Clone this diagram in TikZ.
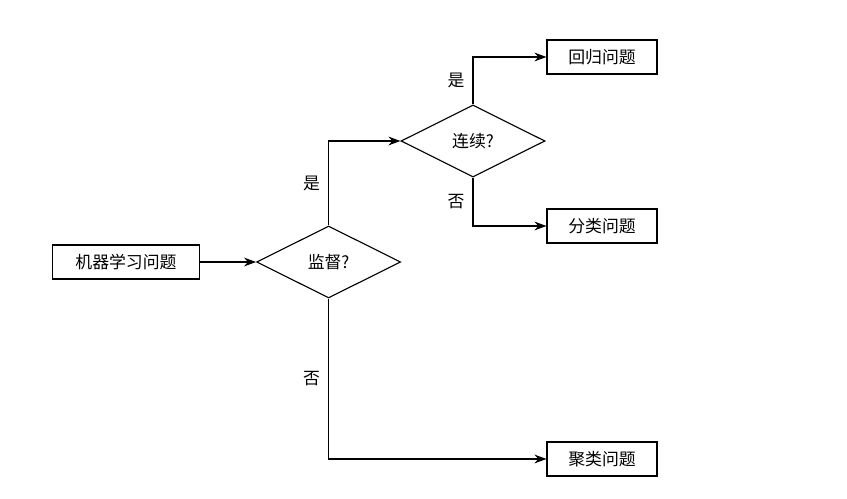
\documentclass[tikz,border=0pt]{standalone}
\usepackage{fontspec}
\newfontfamily\cjk{Noto Sans CJK SC}
\usepackage{tikz}
\usetikzlibrary{arrows.meta,positioning,shapes.geometric}

\begin{document}
\begin{tikzpicture}[
font=\cjk\fontsize{12}{14}\selectfont,
box/.style={draw, line width=0.8pt, minimum height=8.5mm, inner sep=1mm},
res/.style={box, minimum width=27.5mm},
decide/.style={draw, diamond, line width=0.8pt, minimum width=36mm, minimum height=18mm, inner sep=0pt},
arr/.style={-{Stealth[length=3mm,width=2.2mm]}, line width=0.8pt},
lab/.style={left, inner sep=2mm}
]
\useasboundingbox (0,0) rectangle (21.175,-12.475);

\node[box, minimum width=36.75mm] (problem) at (3.15,-6.55) {机器学习问题};
\node[decide, right=14mm of problem] (supervised) {监督?};
\node[decide] (continuous) at (11.825,-3.525) {连续?};
\node[res] (regression) at (15.05,-1.425) {回归问题};
\node[res] (classify) at (15.05,-5.65) {分类问题};
\node[res] (cluster) at (15.05,-11.475) {聚类问题};

\draw[arr] (problem) -- (supervised);
\draw[arr] (supervised.north) |- node[lab, pos=0.25] {是} (continuous.west);
\draw[arr] (supervised.south) |- node[lab, pos=0.25] {否} (cluster.west);
\draw[arr] (continuous.north) |- node[lab, pos=0.25] {是} (regression.west);
\draw[arr] (continuous.south) |- node[lab, pos=0.25] {否} (classify.west);
\end{tikzpicture}
\end{document}
